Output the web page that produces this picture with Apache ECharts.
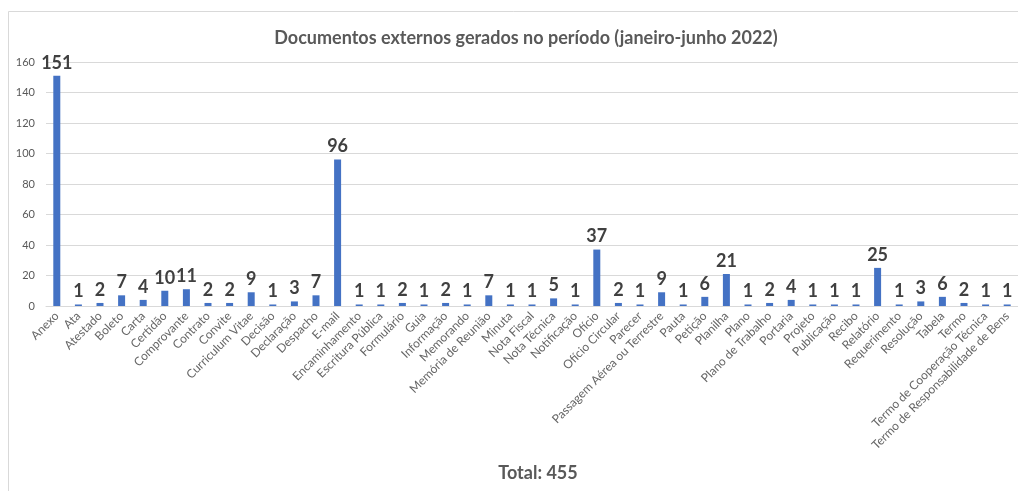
<!DOCTYPE html>
<html>
<head>
<meta charset="utf-8">
<script src="https://cdn.jsdelivr.net/npm/echarts@6/dist/echarts.min.js"></script>
<style>
  html, body { margin: 0; padding: 0; background: #fff; }
  #chart { width: 1018px; height: 491px; }
</style>
</head>
<body>
<div id="chart"></div>
<script>
// Tipos de documento externo
const categories = [
  'Anexo', 'Ata', 'Atestado', 'Boleto', 'Carta', 'Certidão', 'Comprovante',
  'Contrato', 'Convite', 'Curriculum Vitae', 'Decisão', 'Declaração', 'Despacho',
  'E-mail', 'Encaminhamento', 'Escritura Pública', 'Formulário', 'Guia',
  'Informação', 'Memorando', 'Memória de Reunião', 'Minuta', 'Nota Fiscal',
  'Nota Técnica', 'Notificação', 'Ofício', 'Ofício Circular', 'Parecer',
  'Passagem Aérea ou Terrestre', 'Pauta', 'Petição', 'Planilha', 'Plano',
  'Plano de Trabalho', 'Portaria', 'Projeto', 'Publicação', 'Recibo', 'Relatório',
  'Requerimento', 'Resolução', 'Tabela', 'Termo', 'Termo de Cooperação Técnica',
  'Termo de Responsabilidade de Bens'
];

// Quantidade de documentos por tipo
const counts = [
  151, 1, 2, 7, 4, 10, 11,
  2, 2, 9, 1, 3, 7,
  96, 1, 1, 2, 1,
  2, 1, 7, 1, 1,
  5, 1, 37, 2, 1,
  9, 1, 6, 21, 1,
  2, 4, 1, 1, 1, 25,
  1, 3, 6, 2, 1,
  1
];

const yTicks = [0, 20, 40, 60, 80, 100, 120, 140, 160];

const titleText = 'Documentos externos gerados no período (janeiro-junho 2022)';
const total = counts.reduce((a, b) => a + b, 0);
const totalText = 'Total: ' + total;

const FONT = 'Lato, "Open Sans", sans-serif';

const chart = echarts.init(document.getElementById('chart'), null, { renderer: 'canvas' });

chart.setOption({
  backgroundColor: '#ffffff',
  animation: false,
  title: [
    {
      text: titleText,
      left: 521,
      top: 24,
      textAlign: 'center',
      textStyle: { fontFamily: FONT, fontSize: 18, fontWeight: 'bold', color: '#595959' }
    },
    {
      text: totalText,
      left: 533,
      top: 459,
      textAlign: 'center',
      textStyle: { fontFamily: FONT, fontSize: 18, fontWeight: 'bold', color: '#595959' }
    }
  ],
  graphic: [
    {
      type: 'polyline',
      shape: { points: [[8.5, 491], [8.5, 11.5], [1018, 11.5]] },
      style: { stroke: '#d9d9d9', lineWidth: 1, fill: null },
      silent: true
    }
  ],
  grid: { left: 46, right: 0, top: 62, bottom: 185, containLabel: false },
  xAxis: {
    type: 'category',
    data: categories,
    axisLine: { show: true, lineStyle: { color: '#d9d9d9', width: 1 } },
    axisTick: { show: false },
    axisLabel: {
      interval: 0,
      rotate: 45,
      margin: 8,
      fontFamily: FONT,
      fontSize: 12,
      color: '#666666'
    }
  },
  yAxis: {
    type: 'value',
    min: yTicks[0],
    max: yTicks[yTicks.length - 1],
    interval: yTicks[1] - yTicks[0],
    axisLine: { show: false },
    axisTick: { show: false },
    splitLine: { lineStyle: { color: '#d9d9d9', width: 1 } },
    axisLabel: { fontFamily: FONT, fontSize: 11, color: '#595959', margin: 11 }
  },
  series: [
    {
      type: 'bar',
      data: counts,
      barWidth: 7,
      itemStyle: { color: '#4472c4' },
      label: {
        show: true,
        position: 'top',
        distance: 4,
        fontFamily: FONT,
        fontSize: 18,
        fontWeight: 'bold',
        color: '#404040'
      }
    }
  ]
});
</script>
</body>
</html>
